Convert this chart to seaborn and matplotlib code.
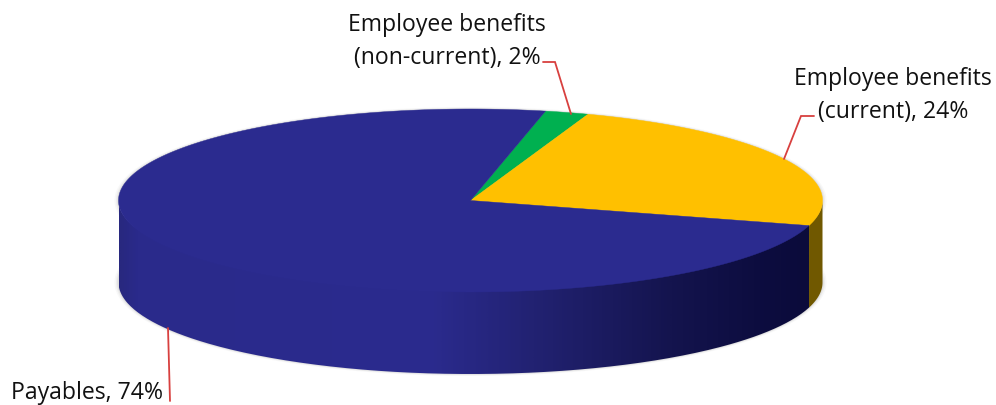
import numpy as np
import matplotlib
matplotlib.use("Agg")
import matplotlib.pyplot as plt
from matplotlib.patches import PathPatch, Polygon
from matplotlib.path import Path
from matplotlib.colors import LinearSegmentedColormap
import seaborn as sns

# Liabilities breakdown, in the clockwise order of the pie
categories = ["Employee benefits\n(non-current)", "Employee benefits\n(current)", "Payables"]
shares = [2, 24, 74]

TOP_COLORS = ["#00b050", "#ffc000", "#2b2b8f"]
YELLOW_SIDE = "#705800"
BLUE_SIDE_STOPS = [(0.0, "#28287f"), (0.025, "#2a2a8b"), (0.45, "#2b2b8e"), (0.6, "#222272"),
                   (0.8, "#14144e"), (0.92, "#0d0d40"), (1.0, "#0b0b3b")]
LEADER = "#d8403f"

sns.set_theme(style="white")
plt.rcParams["font.family"] = ["Open Sans", "DejaVu Sans"]

fig = plt.figure(figsize=(9.96, 4.05), dpi=100, facecolor="white")
ax = fig.add_axes([0, 0, 1, 1])
ax.set_xlim(0, 996)
ax.set_ylim(405, 0)
ax.axis("off")

# Ellipse geometry of the tilted disc, in axes units
CX, CY, RX, RY, DEPTH = 470.5, 200.5, 352.0, 91.5, 82.0
START_ANGLE = 77.7


def rim(t0, t1, dy=0.0, inset=0.0, n=240):
    t = np.radians(np.linspace(t0, t1, n))
    return np.column_stack([CX + RX * np.cos(t), CY + dy - (RY - inset) * np.sin(t)])


# Slice boundaries run clockwise from the start angle
edges = START_ANGLE - np.concatenate([[0], np.cumsum(shares)]) * 3.6

# Soft shadow around the disc's outline
t = np.radians(np.linspace(0, 360, 400))
for grow, alpha in [(4.0, 0.04), (2.5, 0.06), (1.2, 0.10)]:
    for dy in (0, DEPTH):
        ax.fill(CX + (RX + grow) * np.cos(t), CY + dy - (RY + grow * 0.5) * np.sin(t),
                color="#555555", alpha=alpha, lw=0, zorder=1)

# Side wall: the blue part carries a horizontal shading ramp.
# Its upper edge tucks under the top face so no seam shows between them.
seam = edges[2]
blue_wall = np.vstack([rim(180, 360 + seam, inset=3), rim(360 + seam, 180, DEPTH)])
wall_patch = PathPatch(Path(np.vstack([blue_wall, blue_wall[0]])), fc="none", ec="none",
                       transform=ax.transData)
ax.add_patch(wall_patch)
ramp = LinearSegmentedColormap.from_list("wall", BLUE_SIDE_STOPS)
x_end = CX + RX * np.cos(np.radians(seam))
img = ax.imshow(np.linspace(0, 1, 512)[None, :], cmap=ramp, aspect="auto",
                extent=[CX - RX, x_end, CY + RY + DEPTH, CY - RY], zorder=2)
img.set_clip_path(wall_patch)
ax.set_xlim(0, 996)
ax.set_ylim(405, 0)

yellow_wall = np.vstack([rim(360 + seam, 360, inset=3), rim(360, 360 + seam, DEPTH)])
ax.add_patch(Polygon(yellow_wall, fc=YELLOW_SIDE, ec="none", zorder=2))

# Top face, one polygon per slice
for i, colour in enumerate(TOP_COLORS):
    arc = rim(edges[i], edges[i + 1])
    ax.add_patch(Polygon(np.vstack([[CX, CY], arc]), fc=colour, ec=colour, lw=0.3, zorder=3))

# Leader lines
for xs, ys in [([543, 555, 571], [62, 62, 114]),
               ([814, 801, 784], [116, 116, 159]),
               ([168, 170], [328, 401])]:
    ax.plot(xs, ys, color=LEADER, lw=1.3, solid_joinstyle="miter", zorder=4)

# Labels
label_style = dict(fontsize=16.6, color="#111111", va="center", linespacing=1.45, zorder=5)
ax.text(447, 41.5, f"{categories[0]}, {shares[0]}%", ha="center", multialignment="center", **label_style)
ax.text(893, 95.5, f"{categories[1]}, {shares[1]}%", ha="center", multialignment="center", **label_style)
ax.text(163, 393, f"{categories[2]}, {shares[2]}%", ha="right", **label_style)

fig.savefig("out.png", dpi=100, facecolor="white")
